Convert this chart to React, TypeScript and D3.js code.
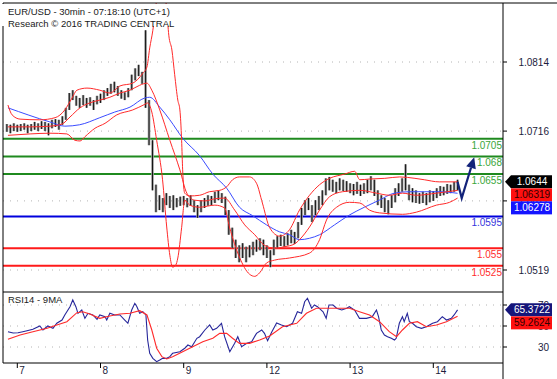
import React from 'react';
import * as d3 from 'd3';

// ---- data ----
const dayLabels = ['7', '8', '9', '12', '13', '14'];
const dayStartHours = [0, 24, 48, 72, 96, 120];
const firstBarHour = -3; // hourly bars, trading-time hours since day 7 00:00

const barHighs = [
  1.0726, 1.0725, 1.0727, 1.0725, 1.0726, 1.0727, 1.0725, 1.0726, 1.0729, 1.0727, 1.0730, 1.0729, 1.0727,
  1.0732, 1.0733, 1.0732, 1.0737, 1.0749, 1.0770, 1.0774, 1.0766, 1.0763, 1.0767,
  1.0763, 1.0764, 1.0760, 1.0766, 1.0769, 1.0774, 1.0777, 1.0783, 1.0786, 1.0780,
  1.0774, 1.0771, 1.0777, 1.0796, 1.0805, 1.0810, 1.0800, 1.0859, 1.0760, 1.0703,
  1.0640, 1.0625, 1.0621, 1.0628, 1.0624, 1.0625, 1.0621, 1.0623, 1.0624, 1.0621,
  1.0625, 1.0618, 1.0611, 1.0618, 1.0621, 1.0625, 1.0624, 1.0630, 1.0632, 1.0628,
  1.0623, 1.0604, 1.0579, 1.0562, 1.0554, 1.0557, 1.0552, 1.0554, 1.0559, 1.0562,
  1.0564, 1.0562, 1.0554, 1.0547, 1.0562, 1.0567, 1.0569, 1.0567, 1.0571, 1.0576,
  1.0573, 1.0587, 1.0607, 1.0618, 1.0621, 1.0611, 1.0618, 1.0624, 1.0632, 1.0649,
  1.0651, 1.0647, 1.0644, 1.0649, 1.0647, 1.0645, 1.0642, 1.0641, 1.0644, 1.0640,
  1.0642, 1.0647, 1.0652, 1.0647, 1.0632, 1.0625, 1.0621, 1.0618, 1.0625, 1.0635,
  1.0642, 1.0649, 1.0669, 1.0640, 1.0635, 1.0632, 1.0628, 1.0630, 1.0628, 1.0632,
  1.0631, 1.0635, 1.0638, 1.0637, 1.0641, 1.0640, 1.0644, 1.0647,
];
const barLows = [
  1.0715, 1.0713, 1.0716, 1.0715, 1.0716, 1.0718, 1.0713, 1.0716, 1.0718, 1.0716, 1.0719, 1.0716, 1.0710,
  1.0720, 1.0722, 1.0718, 1.0725, 1.0732, 1.0746, 1.0760, 1.0752, 1.0749, 1.0753,
  1.0749, 1.0752, 1.0746, 1.0754, 1.0756, 1.0760, 1.0766, 1.0769, 1.0771, 1.0766,
  1.0762, 1.0760, 1.0764, 1.0774, 1.0788, 1.0794, 1.0783, 1.0749, 1.0696, 1.0632,
  1.0601, 1.0604, 1.0601, 1.0611, 1.0607, 1.0604, 1.0608, 1.0610, 1.0611, 1.0608,
  1.0610, 1.0601, 1.0593, 1.0601, 1.0607, 1.0610, 1.0611, 1.0614, 1.0618, 1.0614,
  1.0597, 1.0569, 1.0550, 1.0536, 1.0530, 1.0536, 1.0530, 1.0537, 1.0540, 1.0545,
  1.0547, 1.0540, 1.0536, 1.0523, 1.0540, 1.0550, 1.0553, 1.0552, 1.0554, 1.0557,
  1.0556, 1.0564, 1.0583, 1.0597, 1.0604, 1.0587, 1.0597, 1.0604, 1.0611, 1.0625,
  1.0632, 1.0630, 1.0628, 1.0632, 1.0631, 1.0630, 1.0628, 1.0625, 1.0627, 1.0624,
  1.0627, 1.0628, 1.0632, 1.0624, 1.0611, 1.0607, 1.0601, 1.0598, 1.0607, 1.0615,
  1.0624, 1.0630, 1.0632, 1.0618, 1.0615, 1.0614, 1.0613, 1.0614, 1.0611, 1.0615,
  1.0617, 1.0621, 1.0624, 1.0625, 1.0627, 1.0628, 1.0630, 1.0632,
];

const bbUpper: [number, number][] = [
  [-2.7, 1.0753], [-1.5, 1.0739], [0.8, 1.0733], [6.5, 1.0732], [10.9, 1.0735], [13.7, 1.0746],
  [15.8, 1.0763], [17.2, 1.0774], [20.1, 1.0777], [23.8, 1.0774], [26.7, 1.0770], [29.6, 1.0780],
  [33.3, 1.0784], [36.2, 1.0798], [37.4, 1.0807], [38.2, 1.0834], [39.1, 1.0859], [40, 1.0895],
  [41.1, 1.0930], [42.2, 1.0923], [43.1, 1.0888], [43.7, 1.0852], [44.6, 1.0831], [45.4, 1.0796],
  [46.3, 1.0760], [46.9, 1.0746], [47.4, 1.0703], [47.7, 1.0661], [48.3, 1.0628], [49.7, 1.0624],
  [52.6, 1.0625], [55.4, 1.0630], [58.4, 1.0632], [60.4, 1.0637], [62.1, 1.0647], [64.1, 1.0651],
  [67, 1.0651], [69, 1.0642], [70.7, 1.0614], [72.8, 1.0579], [75.7, 1.0567], [78.5, 1.0576],
  [81.4, 1.0604], [84.3, 1.0625], [87.2, 1.0640], [90.1, 1.0649], [94.4, 1.0655], [97.3, 1.0659],
  [98.8, 1.0647], [101.6, 1.0648], [106, 1.0649], [110.3, 1.0651], [114.7, 1.0649], [117.4, 1.0647],
  [121.7, 1.0644], [127, 1.0644],
];
const bbMiddle: [number, number][] = [
  [-2.7, 1.0722], [3.7, 1.0722], [9.4, 1.0723], [12.9, 1.0726], [15.2, 1.0736], [18.1, 1.0749],
  [20.9, 1.0756], [23.8, 1.0760], [26.7, 1.0764], [29.6, 1.0770], [32.5, 1.0774], [35.3, 1.0781],
  [37.4, 1.0784], [38.8, 1.0774], [41.1, 1.0746], [44, 1.0703], [46.9, 1.0661], [48.9, 1.0628],
  [51.2, 1.0618], [54.1, 1.0617], [57, 1.0620], [59.8, 1.0621], [62.7, 1.0604], [65.6, 1.0583],
  [68.5, 1.0569], [71.3, 1.0554], [74.2, 1.0550], [77.1, 1.0552], [80, 1.0556], [81.4, 1.0562],
  [84.3, 1.0580], [87.2, 1.0604], [90.1, 1.0623], [93.8, 1.0630], [98.8, 1.0632], [103.6, 1.0628],
  [107.3, 1.0625], [111.1, 1.0628], [115.1, 1.0625], [120.9, 1.0628], [127, 1.06319],
];
const bbLower: [number, number][] = [
  [-2.7, 1.0710], [3.7, 1.0712], [9.4, 1.0713], [14.3, 1.0712], [16.6, 1.0703], [18.1, 1.0702],
  [19.5, 1.0708], [22.4, 1.0720], [25.3, 1.0727], [28.7, 1.0739], [33.3, 1.0746], [36.8, 1.0754],
  [37.6, 1.0756], [38.8, 1.0743], [40.2, 1.0703], [41.9, 1.0647], [43.1, 1.0580], [44, 1.0540],
  [44.8, 1.0523], [45.7, 1.0526], [46.3, 1.0536], [47.4, 1.0579], [48.3, 1.0618], [49.7, 1.0611],
  [52.6, 1.0608], [57, 1.0611], [59.8, 1.0607], [61.2, 1.0580], [64.1, 1.0537], [67, 1.0513],
  [68.5, 1.0510], [69.9, 1.0515], [71.9, 1.0529], [74.2, 1.0533], [78.5, 1.0536], [84.3, 1.0543],
  [87.2, 1.0562], [89.2, 1.0590], [92.1, 1.0608], [95.8, 1.0615], [98.8, 1.0614], [101.6, 1.0604],
  [104.5, 1.0600], [111.1, 1.0598], [115.1, 1.0601], [120.9, 1.0611], [124.7, 1.0615], [127, 1.0621],
];
const movingAverage: [number, number][] = [
  [-2.7, 1.0749], [9.4, 1.0729], [13.7, 1.0723], [18, 1.0725], [23.8, 1.0735], [28.1, 1.0743],
  [32.5, 1.0750], [36.8, 1.0763], [38.2, 1.0764], [41.1, 1.0750], [44, 1.0732], [47.7, 1.0706],
  [52.6, 1.0681], [56.4, 1.0655], [60.4, 1.0635], [64.1, 1.0608], [67.9, 1.0596], [71.9, 1.0583],
  [75.7, 1.0573], [78.5, 1.0569], [81.4, 1.0562], [84.3, 1.0564], [87.2, 1.0569], [91.5, 1.0583],
  [95.8, 1.0597], [100.1, 1.0608], [104.4, 1.0618], [108.8, 1.0628], [113.1, 1.0630], [117.4, 1.0630],
  [121.7, 1.0630], [127, 1.06278],
];

const rsi14: [number, number][] = [
  [-2.7, 44.6], [-1.2, 43.3], [0.2, 43.6], [1.6, 44.6], [2.8, 45.5], [4.5, 46.9], [6.5, 50], [7.4, 46.2],
  [8.8, 50], [10.3, 47.8], [11.4, 52.6], [12.9, 55.7], [13.7, 60.5], [15.2, 68.4], [16, 74.8], [16.9, 68.4],
  [17.5, 62.1], [18.6, 65.2], [19.5, 57.3], [20.4, 62.1], [21.8, 60.5], [23, 56.4], [23.8, 60.5], [25.3, 58.9],
  [25.8, 55.7], [26.7, 62.1], [28.1, 60.5], [29.6, 60.5], [31, 55.7], [31.9, 52.6], [33, 65.2], [33.9, 71.6],
  [34.5, 68.4], [35.3, 62.1], [36.2, 63.6], [37.1, 60.5], [37.6, 36.7], [38.2, 24], [39.1, 19.2], [40.2, 16],
  [41.1, 17.6], [41.9, 19.2], [43.1, 19.2], [44, 20.8], [44.8, 24], [46.9, 25.5], [48.3, 28.8], [49.2, 31.9],
  [50.3, 30.3], [51.8, 38.3], [52.6, 39.8], [54.1, 46.2], [55.5, 51], [56.4, 46.2], [57.5, 47.8], [58.9, 52.6],
  [59.8, 39.8], [61.3, 25.5], [62.7, 33.5], [63.6, 39.8], [64.7, 30.3], [66.2, 33.5], [67.6, 35], [69, 43],
  [70.5, 46.2], [71.3, 43], [72.2, 36], [73.4, 44.3], [74.8, 52.9], [76.2, 51], [77.7, 49.3], [79.4, 52.6],
  [80.8, 63.6], [82, 62.1], [82.9, 73.1], [83.7, 76.4], [84.9, 66.9], [85.7, 70], [86.6, 68.4], [88.2, 63.6],
  [89.1, 57.3], [89.9, 70], [91.1, 70], [92.1, 66.9], [93.6, 65.2], [95, 66.9], [95.8, 68.4], [97.3, 65.2],
  [98.7, 57.3], [100.7, 57.3], [102.4, 58.9], [103.6, 65.2], [104.2, 58.9], [105, 46.2], [105.9, 41.4],
  [106.8, 39.8], [107.9, 38.3], [108.8, 36.7], [109.3, 38.3], [110.2, 52.6], [111.1, 58.9], [111.6, 54.1],
  [112.5, 62.1], [113.1, 54.1], [114, 52.6], [115.1, 49.3], [116.6, 47.8], [118, 49.3], [118.9, 51],
  [119.8, 52.6], [121.2, 54.1], [122.6, 58.9], [123.8, 55.7], [125.2, 57.3], [126, 60.5], [127, 65.3722],
];
const rsiMa9: [number, number][] = [
  [-2.7, 37.3], [0.8, 41.4], [4.5, 44.6], [8.6, 47.8], [11.4, 51], [14.3, 54.1], [17.2, 62.7], [18.9, 63.6],
  [20.9, 61.4], [23.8, 57.3], [26.7, 59.5], [29.6, 61.4], [32.5, 62.1], [35.3, 64.6], [37.4, 60.5],
  [38.8, 46.2], [40.2, 28.8], [41.7, 20.8], [43.1, 18.6], [44.8, 20.8], [47.7, 25.5], [50.6, 30.3],
  [53.5, 35], [56.4, 38.3], [58.4, 43], [60.4, 43], [62.1, 38.3], [64.1, 33.5], [67, 33.5], [69.9, 36.7],
  [72.8, 40.5], [76.5, 49.3], [80.6, 52.6], [83.4, 62.1], [86.3, 66.9], [90.1, 66.9], [95.8, 66.9],
  [98.7, 63.6], [101.6, 60.5], [104.5, 54.1], [107.3, 44.6], [109.4, 39.8], [111.1, 46.2], [113.1, 52.6],
  [115.4, 54.1], [118, 49.3], [120.9, 51], [123.8, 54.1], [127, 59.2624],
];

const levelValues = [1.0705, 1.068, 1.0655, 1.0595, 1.055, 1.0525];
const levelLabels = ['1.0705', '1.068', '1.0655', '1.0595', '1.055', '1.0525'];
const levelKinds = ['resistance', 'resistance', 'resistance', 'pivot', 'support', 'support'];

const priceTicks = [1.0519, 1.0617, 1.0716, 1.0814];
const priceTickLabels = ['1.0519', '1.0617', '1.0716', '1.0814'];
const rsiTicks = [30, 50, 70];
const rsiTickLabels = ['30', '50', '70'];

const forecastPath: [number, number][] = [[127, 1.0644], [128.2, 1.0621], [131.8, 1.0679]];

const priceTagValues = [1.0644, 1.06319, 1.06278];
const priceTagLabels = ['1.0644', '1.06319', '1.06278'];
const priceTagKinds = ['last', 'bb', 'ma'];
const rsiTagValues = [65.3722, 59.2624];
const rsiTagLabels = ['65.3722', '59.2624'];
const rsiTagKinds = ['rsi', 'rsiMa'];

const titleLines = ['EUR/USD - 30min - 07:18:10 (UTC+1)', 'Research \u00A9 2016 TRADING CENTRAL'];
const rsiTitle = 'RSI14 - 9MA';

// ---- styles ----
const FONT = '"Liberation Sans", Arial, Helvetica, sans-serif';
const levelStroke: Record<string, string> = { resistance: '#1f8a1f', pivot: '#0000dd', support: '#ff1a1a' };
const levelText: Record<string, string> = { resistance: '#3aa63a', pivot: '#3535dd', support: '#ff2d2d' };
const tagFill: Record<string, string> = { last: '#000000', bb: '#ff1010', ma: '#1414ff', rsi: '#15157a', rsiMa: '#ff1010' };
const tagText: Record<string, string> = { last: '#ffffff', bb: '#300000', ma: '#ffffff', rsi: '#ffffff', rsiMa: '#300000' };
const tagArrow: Record<string, boolean> = { last: true, bb: false, ma: false, rsi: true, rsiMa: false };

export default function App() {
  const W = 557, H = 379;
  const L = 3, R = 503, T = 3, MB = 292, RB = 363;

  const x = d3.scaleLinear().domain([0, 120]).range([17.3, 433.3]);
  const y = d3.scaleLinear().domain([1.0519, 1.0814]).range([270, 62]);
  const yr = d3.scaleLinear().domain([30, 70]).range([347, 305]);

  const smooth = d3.line<[number, number]>().x(d => x(d[0])).y(d => y(d[1])).curve(d3.curveMonotoneX);
  const rsiGen = d3.line<[number, number]>().x(d => x(d[0])).y(d => yr(d[1]));

  const stack = (vals: number[], sc: (v: number) => number) => {
    let prev = -Infinity;
    return vals.map(v => {
      const c = Math.max(sc(v), prev + 13);
      prev = c;
      return c;
    });
  };
  const priceTagY = stack(priceTagValues, y);
  const rsiTagY = stack(rsiTagValues, yr);

  const renderTag = (c: number, label: string, kind: string, key: string) => {
    const x0 = R + 8, x1 = R + 49, h = 6.5;
    return (
      <g key={key}>
        {tagArrow[kind] ? (
          <polygon
            points={`${R + 2},${c} ${x0},${c - h} ${x1},${c - h} ${x1},${c + h} ${x0},${c + h}`}
            fill={tagFill[kind]}
          />
        ) : (
          <rect x={x0} y={c - h} width={x1 - x0} height={2 * h} fill={tagFill[kind]} />
        )}
        <text x={(x0 + x1) / 2 + 0.5} y={c + 3.6} textAnchor="middle" fontSize={10} fill={tagText[kind]} fontFamily={FONT}>
          {label}
        </text>
      </g>
    );
  };

  // forecast arrow
  const fpts = forecastPath.map(([t, v]) => [x(t), y(v)] as [number, number]);
  const tip = fpts[fpts.length - 1];
  const prevPt = fpts[fpts.length - 2];
  const dx = tip[0] - prevPt[0], dy = tip[1] - prevPt[1];
  const len = Math.hypot(dx, dy);
  const ux = dx / len, uy = dy / len;
  const headLen = 11, headW = 5;
  const base: [number, number] = [tip[0] - ux * headLen, tip[1] - uy * headLen];
  const nx = -uy, ny = ux;
  const arrowLine = d3.line()([...fpts.slice(0, -1), base]) || '';

  return (
    <svg width={W} height={H} style={{ position: 'absolute', left: 0, top: 0, background: '#fff' }} fontFamily={FONT}>
      <defs>
        <clipPath id="mainClip"><rect x={L} y={T} width={R - L} height={MB - T} /></clipPath>
        <clipPath id="rsiClip"><rect x={L} y={MB} width={R - L} height={RB - MB} /></clipPath>
      </defs>
      <rect x={0} y={0} width={W} height={H} fill="#fff" />

      {/* gridlines */}
      {priceTicks.map((v, i) => (
        <line key={'pg' + i} x1={L} x2={R} y1={y(v)} y2={y(v)} stroke="#b4b4b4" strokeDasharray="1,6" />
      ))}
      {rsiTicks.map((v, i) => (
        <line key={'rg' + i} x1={L} x2={R} y1={yr(v)} y2={yr(v)} stroke="#b4b4b4" strokeDasharray="1,6" />
      ))}

      <g clipPath="url(#mainClip)">
        {/* level lines */}
        {levelValues.map((v, i) => (
          <line key={'lv' + i} x1={L} x2={R} y1={y(v)} y2={y(v)} stroke={levelStroke[levelKinds[i]]} strokeWidth={2} />
        ))}
        {/* price bars */}
        {barHighs.map((h, i) => {
          const cx = x(firstBarHour + i);
          return (
            <g key={'b' + i}>
              <line x1={cx} x2={cx} y1={y(h)} y2={y(barLows[i])} stroke="#9a9a9a" strokeWidth={2.6} />
              <line x1={cx} x2={cx} y1={y(h)} y2={y(barLows[i])} stroke="#151515" strokeWidth={1} />
            </g>
          );
        })}
        {/* indicators */}
        <path d={smooth(movingAverage) || ''} fill="none" stroke="#3b4cff" strokeWidth={1} />
        <path d={smooth(bbUpper) || ''} fill="none" stroke="#ff2a2a" strokeWidth={1} />
        <path d={smooth(bbMiddle) || ''} fill="none" stroke="#ff2a2a" strokeWidth={1} />
        <path d={smooth(bbLower) || ''} fill="none" stroke="#ff2a2a" strokeWidth={1} />
        {/* forecast arrow */}
        <path d={arrowLine} fill="none" stroke="#13237a" strokeWidth={2.2} strokeLinejoin="miter" />
        <polygon
          points={`${tip[0]},${tip[1]} ${base[0] + nx * headW},${base[1] + ny * headW} ${base[0] - nx * headW},${base[1] - ny * headW}`}
          fill="#13237a"
        />
      </g>

      {/* level labels */}
      {levelValues.map((v, i) => (
        <text key={'ll' + i} x={R - 1} y={y(v) + 10} textAnchor="end" fontSize={10} fill={levelText[levelKinds[i]]}>
          {levelLabels[i]}
        </text>
      ))}

      {/* RSI */}
      <g clipPath="url(#rsiClip)">
        <path d={rsiGen(rsi14) || ''} fill="none" stroke="#26269a" strokeWidth={1.1} />
        <path d={rsiGen(rsiMa9) || ''} fill="none" stroke="#ff2b2b" strokeWidth={1.1} />
      </g>

      {/* frames */}
      <line x1={L} x2={W} y1={T} y2={T} stroke="#000" />
      <line x1={L} x2={L} y1={T} y2={RB} stroke="#000" />
      <line x1={L} x2={R} y1={MB} y2={MB} stroke="#000" />
      <line x1={L} x2={R} y1={RB} y2={RB} stroke="#000" />
      <line x1={R} x2={R} y1={T} y2={H} stroke="#000" />

      {/* right price axis */}
      {priceTicks.map((v, i) => (
        <g key={'pt' + i}>
          <line x1={R} x2={R + 4} y1={y(v)} y2={y(v)} stroke="#000" />
          <text x={549} y={y(v) + 3.5} textAnchor="end" fontSize={10} fill="#1c1c3c">{priceTickLabels[i]}</text>
        </g>
      ))}
      {rsiTicks.map((v, i) => (
        <g key={'rt' + i}>
          <line x1={R} x2={R + 4} y1={yr(v)} y2={yr(v)} stroke="#000" />
          <text x={549} y={yr(v) + 3.5} textAnchor="end" fontSize={10} fill="#1c1c3c">{rsiTickLabels[i]}</text>
        </g>
      ))}

      {/* x axis */}
      {dayStartHours.map((t, i) => (
        <g key={'xt' + i}>
          <line x1={x(t)} x2={x(t)} y1={RB} y2={RB + 5} stroke="#000" />
          <text x={x(t) + 2} y={RB + 11} fontSize={10} fill="#1c1c3c">{dayLabels[i]}</text>
        </g>
      ))}

      {/* tags */}
      {priceTagValues.map((_, i) => renderTag(priceTagY[i], priceTagLabels[i], priceTagKinds[i], 'ptag' + i))}
      {rsiTagValues.map((_, i) => renderTag(rsiTagY[i], rsiTagLabels[i], rsiTagKinds[i], 'rtag' + i))}

      {/* titles */}
      <rect x={0} y={4} width={174} height={22} fill="#fff" />
      <text x={8} y={15} fontSize={9.5} fill="#1a1a1a">{titleLines[0]}</text>
      <text x={8} y={26.5} fontSize={9.5} fill="#1a1a1a">{titleLines[1]}</text>
      <text x={8} y={302.5} fontSize={9.5} fill="#1a1a1a">{rsiTitle}</text>
    </svg>
  );
}
